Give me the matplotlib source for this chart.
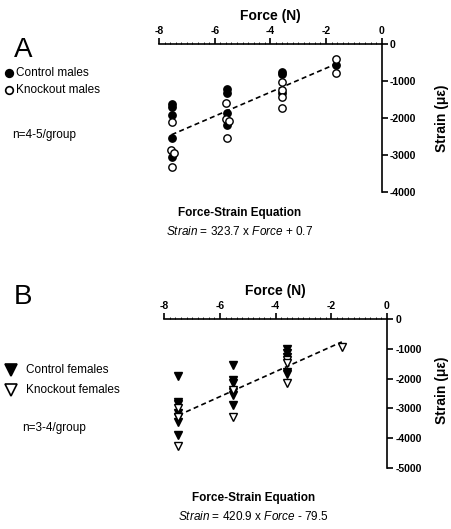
import numpy as np
import matplotlib
matplotlib.use("Agg")
import matplotlib.pyplot as plt
from matplotlib.lines import Line2D
from matplotlib.ticker import MultipleLocator

plt.rcParams['font.family'] = ['Liberation Sans', 'DejaVu Sans']
plt.rcParams['axes.unicode_minus'] = False
plt.rcParams['mathtext.fontset'] = 'custom'
plt.rcParams['mathtext.rm'] = 'Liberation Sans'
plt.rcParams['mathtext.it'] = 'Liberation Sans:italic'

# Panel A: males
a_ctrl_x = [-7.55] * 5 + [-5.57] * 4 + [-3.59] * 3 + [-1.64]
a_ctrl_y = [-1610, -1700, -1910, -2540, -3050,
            -1220, -1310, -1865, -2180,
            -740, -800, -1305,
            -560]
a_ko_x = [-7.55, -7.58, -7.45, -7.55, -5.6, -5.6, -5.5, -5.55, -3.59, -3.59, -3.59, -3.59, -1.64, -1.64]
a_ko_y = [-2090, -2855, -2946, -3306, -1595, -2027, -2063, -2540, -1010, -1235, -1430, -1730, -405, -785]
a_slope, a_icpt = 323.7, 0.7

# Panel B: females
b_ctrl_x = [-7.49] * 7 + [-5.54] * 6 + [-3.6] * 5
b_ctrl_y = [-1910, -2775, -2854, -3170, -3281, -3449, -3900,
            -1540, -2045, -2157, -2438, -2550, -2888,
            -1010, -1146, -1281, -1764, -1843]
b_ko_x = [-7.49, -7.49, -7.49, -5.54, -5.54, -3.6, -3.6, -3.6, -1.62]
b_ko_y = [-3000, -3281, -4270, -2382, -3281, -1370, -1483, -2157, -921]
b_slope, b_icpt = 420.9, -79.5

fig = plt.figure(figsize=(4.52, 5.29), dpi=100)


def setup(ax, ymin, yticks):
    ax.set_xlim(-8, 0)
    ax.set_ylim(ymin, 0)
    for s in ['left', 'bottom']:
        ax.spines[s].set_visible(False)
    for s in ['top', 'right']:
        ax.spines[s].set_linewidth(1.2)
    ax.xaxis.tick_top()
    ax.yaxis.tick_right()
    ax.set_xticks([-8, -6, -4, -2, 0])
    ax.xaxis.set_minor_locator(MultipleLocator(0.2))
    ax.set_yticks(yticks)
    ax.tick_params(axis='both', which='major', length=4, width=1.2, labelsize=7.5, pad=2)
    ax.tick_params(axis='x', which='minor', length=1.5, width=0.6)
    for lab in ax.get_xticklabels() + ax.get_yticklabels():
        lab.set_fontweight('bold')
    ax.set_xlabel('Force (N)', fontsize=10, fontweight='bold', labelpad=4)
    ax.xaxis.set_label_position('top')
    ax.patch.set_visible(False)


def key(x, y, marker, fill, ms):
    fig.add_artist(Line2D([x], [y], marker=marker, ms=ms, mfc=fill, mec='black', mew=1.2,
                          linestyle='none', transform=fig.transFigure))


# ---- Panel A ----
axA = fig.add_axes([0.352, 0.6365, 0.4925, 0.2798])
setup(axA, -4000, [0, -1000, -2000, -3000, -4000])
xs = np.array([-7.55, -1.64])
axA.plot(xs, a_slope * xs + a_icpt, 'k--', lw=1.2, dashes=(3, 2), zorder=1)
axA.plot(a_ctrl_x, a_ctrl_y, 'o', ms=5.3, mfc='black', mec='black', mew=1, zorder=3, clip_on=False)
axA.plot(a_ko_x, a_ko_y, 'o', ms=5.3, mfc='white', mec='black', mew=1, zorder=4, clip_on=False)

fig.text(0.03, 0.905, 'A', fontsize=20, va='center', ha='left')
key(0.019, 0.862, 'o', 'black', 5.5)
fig.text(0.036, 0.862, 'Control males', fontsize=8.5, va='center', ha='left')
key(0.019, 0.830, 'o', 'white', 5.5)
fig.text(0.036, 0.830, 'Knockout males', fontsize=8.5, va='center', ha='left')
fig.text(0.027, 0.745, 'n=4-5/group', fontsize=8.5, va='center', ha='left')
fig.text(0.977, 0.777, 'Strain (\u03bc\u03b5)', fontsize=10, fontweight='bold', rotation=90,
         va='center', ha='center')
fig.text(0.531, 0.597, 'Force-Strain Equation', fontsize=8.5, fontweight='bold', ha='center', va='center')
fig.text(0.531, 0.563, r'$\it{Strain}$ = 323.7 x $\it{Force}$ + 0.7', fontsize=8.5, ha='center', va='center')

# ---- Panel B ----
axB = fig.add_axes([0.3635, 0.1159, 0.4925, 0.2805])
setup(axB, -5000, [0, -1000, -2000, -3000, -4000, -5000])
xs = np.array([-7.49, -1.62])
axB.plot(xs, b_slope * xs + b_icpt, 'k--', lw=1.2, dashes=(3, 2), zorder=1)
axB.plot(b_ctrl_x, b_ctrl_y, 'v', ms=6, mfc='black', mec='black', mew=1, zorder=3, clip_on=False)
axB.plot(b_ko_x, b_ko_y, 'v', ms=6, mfc='white', mec='black', mew=1, zorder=4, clip_on=False)

fig.text(0.03, 0.438, 'B', fontsize=20, va='center', ha='left')
key(0.024, 0.300, 'v', 'black', 8)
fig.text(0.057, 0.300, 'Control females', fontsize=8.5, va='center', ha='left')
key(0.024, 0.262, 'v', 'white', 8)
fig.text(0.057, 0.262, 'Knockout females', fontsize=8.5, va='center', ha='left')
fig.text(0.05, 0.191, 'n=3-4/group', fontsize=8.5, va='center', ha='left')
fig.text(0.978, 0.263, 'Strain (\u03bc\u03b5)', fontsize=10, fontweight='bold', rotation=90,
         va='center', ha='center')
fig.text(0.56, 0.058, 'Force-Strain Equation', fontsize=8.5, fontweight='bold', ha='center', va='center')
fig.text(0.56, 0.023, r'$\it{Strain}$ = 420.9 x $\it{Force}$ - 79.5', fontsize=8.5, ha='center', va='center')

fig.savefig('out.png', dpi=100)
